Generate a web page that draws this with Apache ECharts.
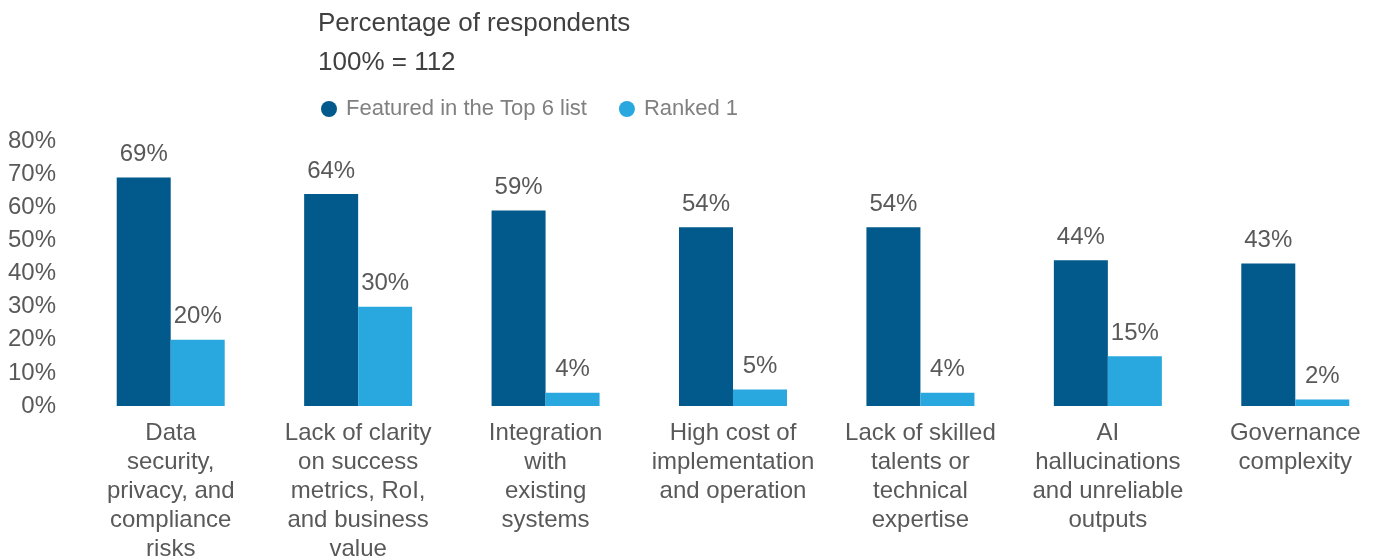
<!DOCTYPE html>
<html>
<head>
<meta charset="utf-8">
<script src="https://cdn.jsdelivr.net/npm/echarts@6/dist/echarts.min.js"></script>
<style>
html,body{margin:0;padding:0;background:#fff;}
#chart{width:1375px;height:556px;}
</style>
</head>
<body>
<div id="chart"></div>
<script>
const categories = [
  "Data\nsecurity,\nprivacy, and\ncompliance\nrisks",
  "Lack of clarity\non success\nmetrics, RoI,\nand business\nvalue",
  "Integration\nwith\nexisting\nsystems",
  "High cost of\nimplementation\nand operation",
  "Lack of skilled\ntalents or\ntechnical\nexpertise",
  "AI\nhallucinations\nand unreliable\noutputs",
  "Governance\ncomplexity"
];
const featuredTop6 = [69, 64, 59, 54, 54, 44, 43];
const ranked1 = [20, 30, 4, 5, 4, 15, 2];
const seriesNames = ["Featured in the Top 6 list", "Ranked 1"];
const titleText = "Percentage of respondents";
const subText = "100% = 112";

const FONT = '"Liberation Sans", Arial, sans-serif';
const chart = echarts.init(document.getElementById('chart'), null, {renderer: 'canvas'});
const labelStyle = {
  show: true, position: 'top', distance: 11,
  formatter: '{c}%', color: '#595959', fontSize: 24, fontFamily: FONT
};
chart.setOption({
  animation: false,
  backgroundColor: '#ffffff',
  title: [
    {text: titleText, left: 313, top: 6,
     textStyle: {fontSize: 26, fontWeight: 'normal', color: '#404040', fontFamily: FONT}},
    {text: subText, left: 313, top: 45,
     textStyle: {fontSize: 26, fontWeight: 'normal', color: '#404040', fontFamily: FONT}}
  ],
  legend: {
    left: 316, top: 93,
    icon: 'circle', itemWidth: 16, itemHeight: 16, itemGap: 32,
    textStyle: {fontSize: 22, color: '#808080', fontFamily: FONT, padding: [0, 0, 0, 4]},
    data: seriesNames
  },
  grid: {left: 77, right: -14, top: 141, bottom: 150, containLabel: false, outerBoundsMode: 'none'},
  xAxis: {
    type: 'category', data: categories,
    axisLine: {show: false}, axisTick: {show: false},
    axisLabel: {interval: 0, margin: 13, fontSize: 24, lineHeight: 29, color: '#595959', fontFamily: FONT, align: 'center'}
  },
  yAxis: {
    type: 'value', min: 0, max: 80, interval: 10,
    axisLine: {show: false}, axisTick: {show: false}, splitLine: {show: false},
    axisLabel: {formatter: '{value}%', margin: 21, fontSize: 24, color: '#595959', fontFamily: FONT}
  },
  series: [
    {name: seriesNames[0], type: 'bar', data: featuredTop6, barWidth: 54, barGap: '0%',
     itemStyle: {color: '#02598B'}, label: labelStyle},
    {name: seriesNames[1], type: 'bar', data: ranked1, barWidth: 54, barGap: '0%',
     itemStyle: {color: '#29A8E0'}, label: labelStyle}
  ]
});
</script>
</body>
</html>
